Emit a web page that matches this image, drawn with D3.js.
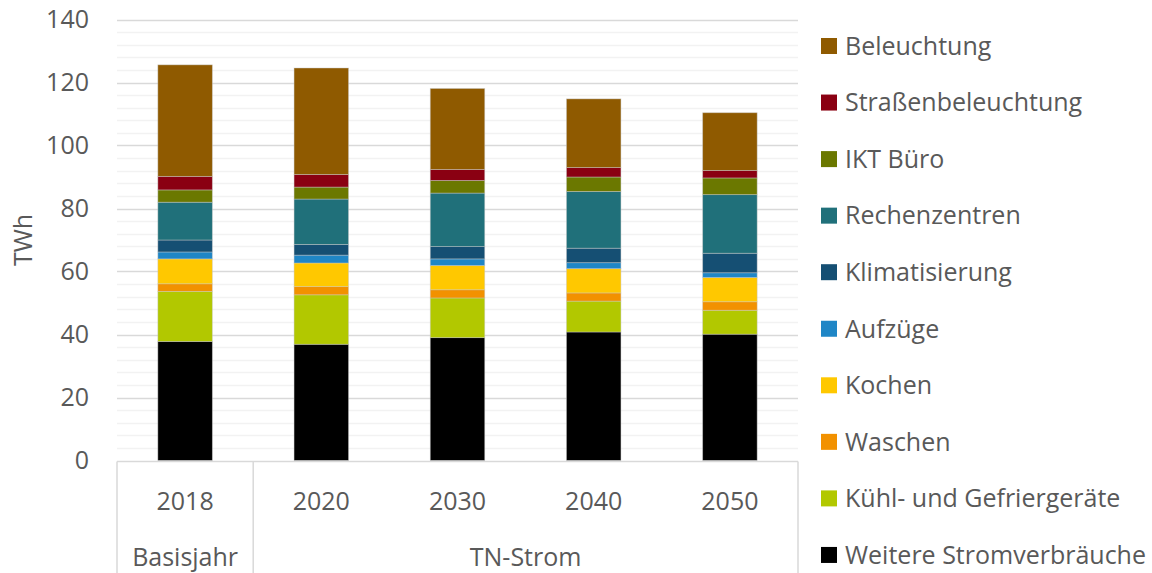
<!DOCTYPE html>
<html>
<head>
<meta charset="utf-8">
<script src="https://cdn.jsdelivr.net/npm/d3@7"></script>
<style>
  html, body { margin: 0; padding: 0; background: #fff; }
  svg { display: block; font-family: "Open Sans", "Noto Sans", sans-serif; }
</style>
</head>
<body>
<svg id="chart" width="1152" height="573"></svg>
<script>
// Stromverbrauch nach Anwendungen (TWh), Basisjahr und TN-Strom-Szenario
const years = ["2018", "2020", "2030", "2040", "2050"];
const groups = [
  { label: "Basisjahr", from: "2018", to: "2018" },
  { label: "TN-Strom", from: "2020", to: "2050" }
];
// stacking order: bottom to top
const seriesNames = [
  "Weitere Stromverbräuche",
  "Kühl- und Gefriergeräte",
  "Waschen",
  "Kochen",
  "Aufzüge",
  "Klimatisierung",
  "Rechenzentren",
  "IKT Büro",
  "Straßenbeleuchtung",
  "Beleuchtung"
];
const seriesColors = [
  "#000000", "#b2c800", "#f29100", "#ffc800", "#1f86c6",
  "#154f73", "#20707a", "#6b7800", "#8a0012", "#8f5a00"
];
const weitere      = [37.8, 36.9, 39.0, 40.8, 40.1];
const kuehl        = [15.9, 15.7, 12.6,  9.8,  7.6];
const waschen      = [ 2.4,  2.6,  2.6,  2.6,  2.7];
const kochen       = [ 7.9,  7.5,  7.7,  7.7,  7.7];
const aufzuege     = [ 2.2,  2.5,  2.1,  1.9,  1.5];
const klima        = [ 3.8,  3.4,  3.9,  4.6,  6.2];
const rechenzentren= [12.0, 14.4, 17.0, 18.0, 18.6];
const iktBuero     = [ 3.9,  3.8,  4.0,  4.6,  5.3];
const strassen     = [ 4.3,  4.0,  3.5,  3.0,  2.4];
const beleuchtung  = [35.4, 33.8, 25.7, 21.8, 18.3];
const seriesValues = [weitere, kuehl, waschen, kochen, aufzuege, klima,
                      rechenzentren, iktBuero, strassen, beleuchtung];
const yTicks = [0, 20, 40, 60, 80, 100, 120, 140];
const yMinorStep = 4;
const yTitle = "TWh";

const svg = d3.select("#chart");
const plot = { left: 117, right: 798, top: 19.5, bottom: 460.5 };
const textColor = "#595959";
const fontSize = 25;

const x = d3.scaleBand().domain(years).range([plot.left, plot.right]).paddingInner(0.6).paddingOuter(0.3);
const y = d3.scaleLinear().domain([0, 140]).range([plot.bottom, plot.top]);

// minor gridlines
const minor = d3.range(0, 140 + 0.001, yMinorStep).filter(v => v % 20 !== 0);
svg.append("g").selectAll("line").data(minor).join("line")
  .attr("x1", plot.left).attr("x2", plot.right)
  .attr("y1", d => Math.round(y(d)) + 0.5).attr("y2", d => Math.round(y(d)) + 0.5)
  .attr("stroke", "#f2f2f2").attr("stroke-width", 1.5);

// major gridlines
svg.append("g").selectAll("line").data(yTicks.filter(v => v > 0)).join("line")
  .attr("x1", plot.left).attr("x2", plot.right)
  .attr("y1", d => Math.round(y(d)) + 0.5).attr("y2", d => Math.round(y(d)) + 0.5)
  .attr("stroke", "#d9d9d9").attr("stroke-width", 1.5);

// y axis labels
const yAxis = d3.axisLeft(y).tickValues(yTicks).tickSize(0).tickPadding(28);
const gy = svg.append("g").attr("transform", `translate(${plot.left},0)`).call(yAxis);
gy.select(".domain").remove();
gy.selectAll("text").attr("fill", textColor).style("font-size", fontSize + "px")
  .style("font-family", "'Open Sans', sans-serif");

// y axis title
svg.append("text")
  .attr("transform", `translate(32,${(plot.top + plot.bottom) / 2}) rotate(-90)`)
  .attr("text-anchor", "middle").attr("fill", textColor)
  .style("font-size", fontSize + "px").text(yTitle);

// stacked bars
const table = years.map((yr, i) => {
  const row = { year: yr };
  seriesNames.forEach((s, k) => row[s] = seriesValues[k][i]);
  return row;
});
const stacked = d3.stack().keys(seriesNames)(table);
svg.append("g").selectAll("g").data(stacked).join("g")
  .attr("fill", (d, i) => seriesColors[i])
  .selectAll("rect").data(d => d).join("rect")
  .attr("x", d => x(d.data.year))
  .attr("width", x.bandwidth())
  .attr("y", d => y(d[1]))
  .attr("height", d => y(d[0]) - y(d[1]))
  .attr("stroke", "rgba(200,200,200,0.55)").attr("stroke-width", 0.8);

// category axis with grouped labels
const axisTop = plot.bottom + 1;
const gx = svg.append("g");
gx.append("line").attr("x1", plot.left).attr("x2", plot.right)
  .attr("y1", axisTop).attr("y2", axisTop).attr("stroke", "#d9d9d9").attr("stroke-width", 1.5);
const step = x.step();
const bounds = [plot.left];
groups.forEach(g => bounds.push(x(g.to) + x.bandwidth() / 2 + step / 2));
bounds[bounds.length - 1] = plot.right;
gx.selectAll("line.sep").data(bounds).join("line").attr("class", "sep")
  .attr("x1", d => d).attr("x2", d => d)
  .attr("y1", axisTop).attr("y2", 573).attr("stroke", "#d9d9d9").attr("stroke-width", 1.5);
gx.selectAll("text.year").data(years).join("text").attr("class", "year")
  .attr("x", d => x(d) + x.bandwidth() / 2).attr("y", 510)
  .attr("text-anchor", "middle").attr("fill", textColor)
  .style("font-size", fontSize + "px").text(d => d);
gx.selectAll("text.grp").data(groups).join("text").attr("class", "grp")
  .attr("x", g => (x(g.from) + x(g.to) + x.bandwidth()) / 2)
  .attr("y", 566)
  .attr("text-anchor", "middle").attr("fill", textColor)
  .style("font-size", fontSize + "px").text(g => g.label);

// legend (top-down: reverse of stacking order)
const legendOrder = seriesNames.map((s, i) => ({ name: s, color: seriesColors[i] })).reverse();
const lg = svg.append("g");
const item = lg.selectAll("g").data(legendOrder).join("g")
  .attr("transform", (d, i) => `translate(821,${46 + i * 56.55})`);
item.append("rect").attr("x", 0).attr("y", -8).attr("width", 16).attr("height", 16)
  .attr("fill", d => d.color);
item.append("text").attr("x", 24).attr("y", 0).attr("dy", "0.35em")
  .attr("fill", textColor).style("font-size", fontSize + "px").text(d => d.name);
</script>
</body>
</html>
